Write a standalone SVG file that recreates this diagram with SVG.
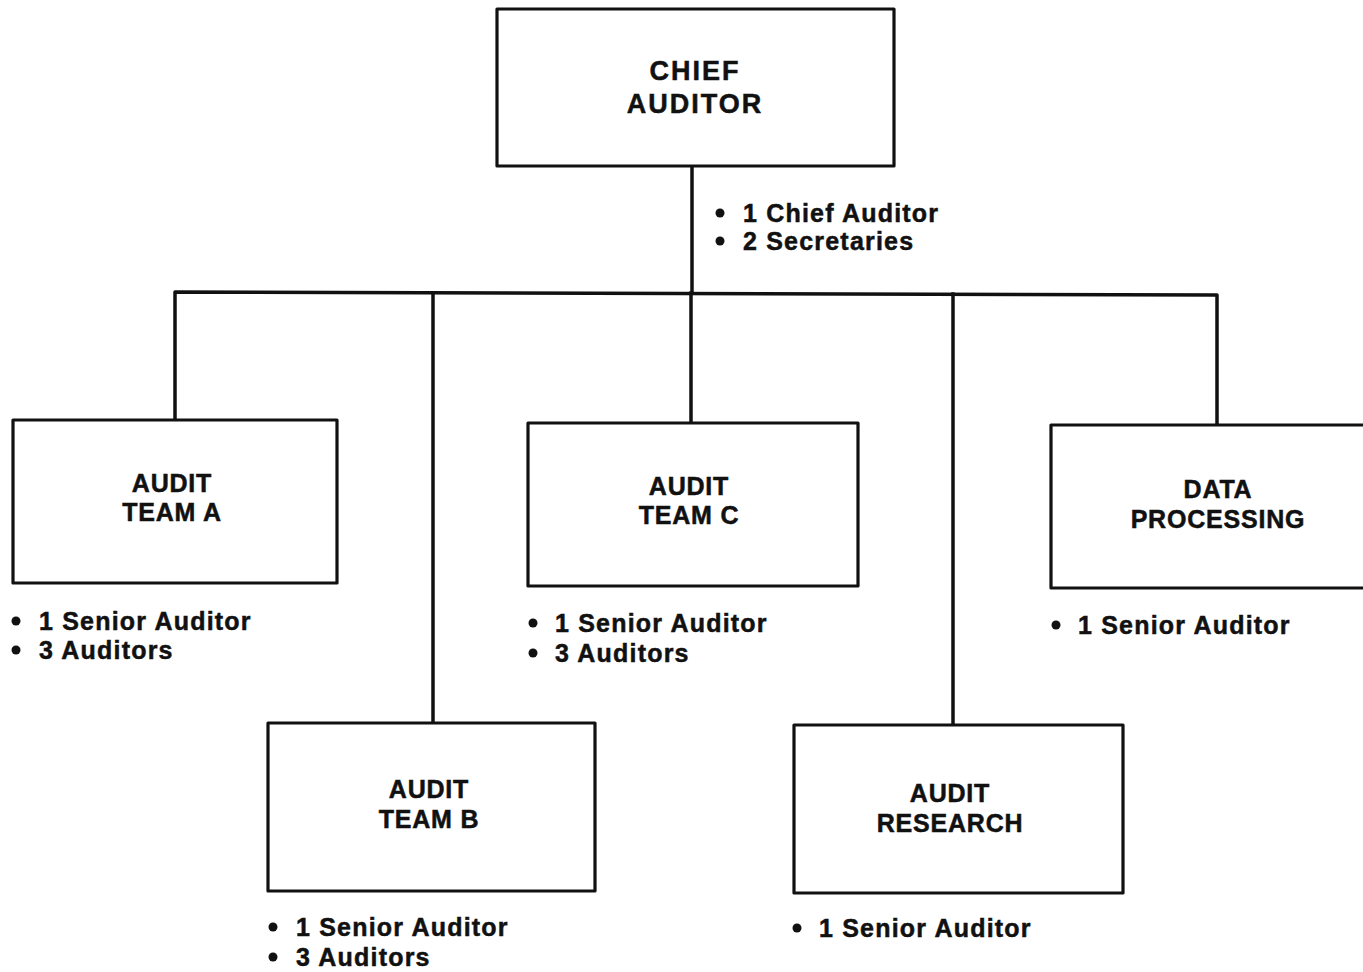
<svg xmlns="http://www.w3.org/2000/svg" width="1363" height="972" viewBox="0 0 1363 972">
<style>
.box{fill:#fff;stroke:#111;stroke-width:3.2;stroke-linejoin:round}
.ln{fill:none;stroke:#111;stroke-width:3.5;stroke-linejoin:round;stroke-linecap:square}
.lbl{font-family:"Liberation Sans",Arial,sans-serif;font-weight:bold;font-size:25px;letter-spacing:0.8px;fill:#111;stroke:#111;stroke-width:0.5;text-anchor:middle}
.chief{font-size:27px;letter-spacing:2px}
.bul{font-family:"Liberation Sans",Arial,sans-serif;font-weight:bold;font-size:25px;letter-spacing:1.2px;fill:#111;stroke:#111;stroke-width:0.5}
.dot{fill:#111}
</style>
<rect width="1363" height="972" fill="#fff"/>
<g id="connectors">
<path class="ln" d="M692 166 V293"/>
<path class="ln" d="M175 420 V292 L1217 295 V425"/>
<path class="ln" d="M433 293 V722"/>
<path class="ln" d="M691 293 V423"/>
<path class="ln" d="M953 294 V725"/>
</g>
<g id="chief">
<rect class="box" x="497" y="9" width="397" height="157"/>
<text class="lbl chief" x="695" y="80">CHIEF</text>
<text class="lbl chief" x="695" y="113">AUDITOR</text>
<circle class="dot" cx="720" cy="213" r="4.5"/>
<text class="bul" x="743" y="222">1 Chief Auditor</text>
<circle class="dot" cx="720" cy="241" r="4.5"/>
<text class="bul" x="743" y="250">2 Secretaries</text>
</g>
<g id="teamA">
<rect class="box" x="13" y="420" width="324" height="163"/>
<text class="lbl" x="172" y="492">AUDIT</text>
<text class="lbl" x="172" y="521">TEAM A</text>
<circle class="dot" cx="16" cy="621" r="4.5"/>
<text class="bul" x="39" y="630">1 Senior Auditor</text>
<circle class="dot" cx="16" cy="650" r="4.5"/>
<text class="bul" x="39" y="659">3 Auditors</text>
</g>
<g id="teamB">
<rect class="box" x="268" y="723" width="327" height="168"/>
<text class="lbl" x="429" y="798">AUDIT</text>
<text class="lbl" x="429" y="828">TEAM B</text>
<circle class="dot" cx="273" cy="927" r="4.5"/>
<text class="bul" x="296" y="936">1 Senior Auditor</text>
<circle class="dot" cx="273" cy="957" r="4.5"/>
<text class="bul" x="296" y="966">3 Auditors</text>
</g>
<g id="teamC">
<rect class="box" x="528" y="423" width="330" height="163"/>
<text class="lbl" x="689" y="495">AUDIT</text>
<text class="lbl" x="689" y="524">TEAM C</text>
<circle class="dot" cx="533" cy="623" r="4.5"/>
<text class="bul" x="555" y="632">1 Senior Auditor</text>
<circle class="dot" cx="533" cy="653" r="4.5"/>
<text class="bul" x="555" y="662">3 Auditors</text>
</g>
<g id="research">
<rect class="box" x="794" y="725" width="329" height="168"/>
<text class="lbl" x="950" y="802">AUDIT</text>
<text class="lbl" x="950" y="832">RESEARCH</text>
<circle class="dot" cx="797" cy="928" r="4.5"/>
<text class="bul" x="819" y="937">1 Senior Auditor</text>
</g>
<g id="dataProcessing">
<rect class="box" x="1051" y="425" width="330" height="163"/>
<text class="lbl" x="1218" y="498">DATA</text>
<text class="lbl" x="1218" y="528">PROCESSING</text>
<circle class="dot" cx="1056" cy="625" r="4.5"/>
<text class="bul" x="1078" y="634">1 Senior Auditor</text>
</g>
</svg>
